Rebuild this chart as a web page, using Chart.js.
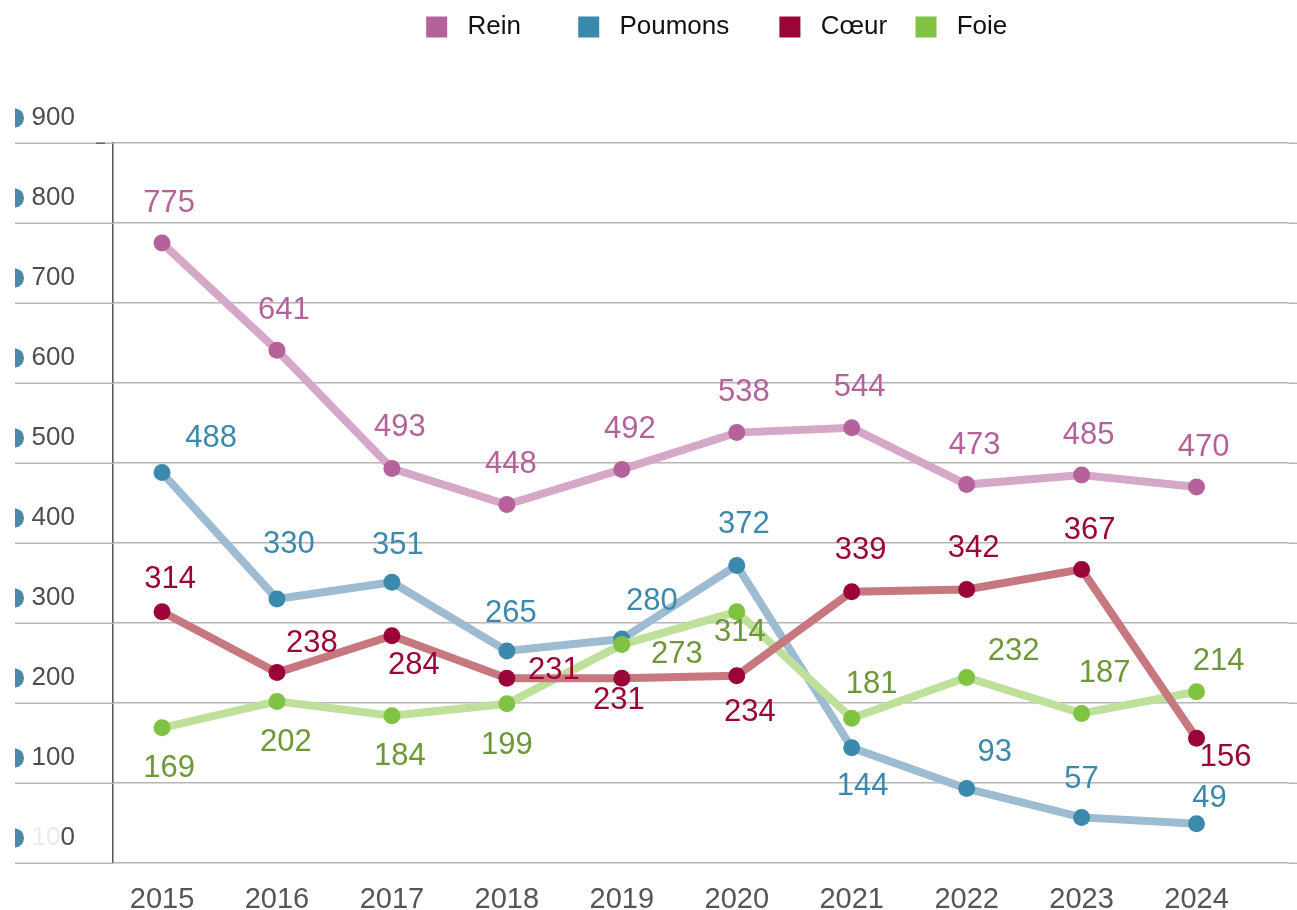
<!DOCTYPE html>
<html><head><meta charset="utf-8">
<script src="https://cdn.jsdelivr.net/npm/chart.js@4/dist/chart.umd.min.js"></script>
<style>html,body{margin:0;padding:0;background:#fff;overflow:hidden;}canvas{display:block;}</style>
</head><body><canvas id="c" width="1297" height="910" style="width:1297px;height:910px"></canvas>
<script>
const years = [2015, 2016, 2017, 2018, 2019, 2020, 2021, 2022, 2023, 2024];
const seriesNames = ['Rein', 'Poumons', 'Cœur', 'Foie'];
const rein = [775, 641, 493, 448, 492, 538, 544, 473, 485, 470];
const poumons = [488, 330, 351, 265, 280, 372, 144, 93, 57, 49];
const coeur = [314, 238, 284, 231, 231, 234, 339, 342, 367, 156];
const foie = [169, 202, 184, 199, 273, 314, 181, 232, 187, 214];
const yTicks = [0, 100, 200, 300, 400, 500, 600, 700, 800, 900];

// styling: [line colour, point colour, label colour]
const styles = [
  ['#d5a8c8', '#b5629b', '#b5629b'],
  ['#9dbcd2', '#3b8aad', '#3b8aad'],
  ['#c7787f', '#9b0439', '#9b0439'],
  ['#bee09b', '#80c241', '#6e9838']
];
// value label placement relative to point [dx, dy]
const labelPlace = [
  [[7,-40],[7,-40],[8,-41],[4,-40],[8,-40],[7,-40],[8,-40],[8,-39],[7,-40],[7,-40]],
  [[49,-34],[12,-55],[6,-37],[4,-38],[30,-38],[7,-41],[11,39],[28,-36],[0,-38],[13,-25]],
  [[8,-32],[35,-29],[22,30],[47,-8],[-3,22],[13,37],[9,-41],[7,-41],[8,-39],[29,19]],
  [[7,41],[9,41],[8,41],[0,42],[55,10],[3,21],[20,-34],[47,-26],[23,-40],[22,-30]]
];
const seriesValues = [rein, poumons, coeur, foie];
const drawOrder = [4, 3, 1, 2];
const FONT = "'Liberation Sans', Arial, Helvetica, sans-serif";
const legendSpacing = ['      ', '     ', '  ', ''];

const datasets = seriesNames.map((name, s) => ({
  label: name,
  data: years.map((yr, i) => ({x: yr, y: seriesValues[s][i]})),
  borderColor: styles[s][0],
  backgroundColor: styles[s][1],
  pointBackgroundColor: styles[s][1],
  pointBorderWidth: 0,
  pointRadius: 8.5,
  pointHoverRadius: 8.5,
  borderWidth: 8,
  tension: 0,
  order: drawOrder[s]
}));

const LABEL_OFF = -25;
const GRID_COLOR = '#b5b5b5';

const extras = {
  id: 'extras',
  beforeLayout(chart) {
    const lg = chart.legend;
    if (lg && !lg._patched) {
      const orig = lg.fit;
      lg.fit = function () { orig.call(this); this.height = 143; };
      lg._patched = true;
    }
  },
  afterLayout(chart) {
    const lg = chart.legend, ca = chart.chartArea;
    const shift = ((ca.left + ca.right) / 2 + 16) - (lg.left + lg.right) / 2;
    lg.left += shift; lg.right += shift;
  },
  beforeDatasetsDraw(chart) {
    const ctx = chart.ctx, ys = chart.scales.y, ca = chart.chartArea;
    ctx.save();
    ctx.strokeStyle = GRID_COLOR;
    ctx.lineWidth = 1.5;
    yTicks.forEach(v => {
      const py = Math.round(ys.getPixelForValue(v)) + 0.25;
      ctx.beginPath();
      ctx.moveTo(15, py);
      ctx.lineTo(ca.left, py);
      ctx.moveTo(ca.right, py);
      ctx.lineTo(chart.width, py);
      ctx.stroke();
    });
    ctx.strokeStyle = '#666';
    const top = Math.round(ys.getPixelForValue(900)) + 0.25;
    ctx.beginPath(); ctx.moveTo(96, top); ctx.lineTo(105, top); ctx.stroke();
    ctx.restore();
  },
  afterDatasetsDraw(chart) {
    const ctx = chart.ctx;
    ctx.save();
    ctx.font = '31px ' + FONT;
    ctx.textAlign = 'center';
    ctx.textBaseline = 'middle';
    chart.data.datasets.forEach((ds, s) => {
      const meta = chart.getDatasetMeta(s);
      ctx.fillStyle = styles[s][2];
      meta.data.forEach((pt, i) => {
        const p = labelPlace[s][i];
        ctx.fillText(String(seriesValues[s][i]), pt.x + p[0], pt.y + p[1]);
      });
    });
    ctx.restore();
  },
  afterDraw(chart) {
    const ctx = chart.ctx, ys = chart.scales.y;
    ctx.save();
    yTicks.forEach(v => {
      const py = ys.getPixelForValue(v) + LABEL_OFF;
      ctx.beginPath();
      ctx.ellipse(15, py, 9, 9.5, 0, -Math.PI / 2, Math.PI / 2);
      ctx.closePath();
      ctx.fillStyle = '#4a8aa8';
      ctx.fill();
    });
    ctx.font = '26px ' + FONT;
    ctx.textBaseline = 'middle';
    ctx.textAlign = 'right';
    const rightX = ys.right - 38;
    const w0 = ctx.measureText('0').width;
    ctx.fillStyle = '#ecece8';
    ctx.fillText('10', rightX - w0, ys.getPixelForValue(0) + LABEL_OFF);
    ctx.restore();
  }
};

new Chart(document.getElementById('c'), {
  type: 'line',
  data: {datasets},
  options: {
    responsive: false,
    devicePixelRatio: 1,
    animation: false,
    events: [],
    layout: {padding: {left: 32, right: 0, top: 0, bottom: 0}},
    plugins: {
      tooltip: {enabled: false},
      legend: {
        position: 'top',
        labels: {
          font: {family: FONT, size: 26},
          color: '#111',
          boxWidth: 21,
          boxHeight: 21,
          padding: 14,
          sort: (a, b) => a.datasetIndex - b.datasetIndex,
          generateLabels(chart) {
            return chart.data.datasets.map((ds, i) => ({
              text: ' ' + ds.label + legendSpacing[i],
              fillStyle: styles[i][1],
              strokeStyle: styles[i][1],
              lineWidth: 0,
              hidden: false,
              datasetIndex: i,
              fontColor: '#111'
            }));
          }
        }
      }
    },
    scales: {
      x: {
        type: 'linear',
        min: 2014.5735,
        max: 2024.80,
        afterBuildTicks(scale) { scale.ticks = years.map(v => ({value: v})); },
        afterFit(scale) { scale.height = 47; scale.paddingLeft = 0; scale.paddingRight = 0; scale.paddingTop = 0; scale.paddingBottom = 0; },
        grid: {display: false},
        border: {display: false},
        ticks: {
          callback: v => String(v),
          font: {family: FONT, size: 29, lineHeight: 1},
          color: '#555',
          padding: 14,
          maxRotation: 0,
          autoSkip: false
        }
      },
      y: {
        min: 0,
        max: 900,
        afterBuildTicks(scale) { scale.ticks = yTicks.map(v => ({value: v})); },
        afterFit(scale) { scale.width = 81; scale.paddingTop = 0; scale.paddingBottom = 0; scale.paddingLeft = 0; scale.paddingRight = 0; },
        grid: {color: GRID_COLOR, lineWidth: 1.5, drawTicks: false},
        border: {display: true, color: '#555', width: 1.5},
        ticks: {
          callback: v => String(v),
          font: {family: FONT, size: 26},
          color: '#4d4d4d',
          padding: 38,
          labelOffset: LABEL_OFF
        }
      }
    }
  },
  plugins: [extras]
});
</script></body></html>
